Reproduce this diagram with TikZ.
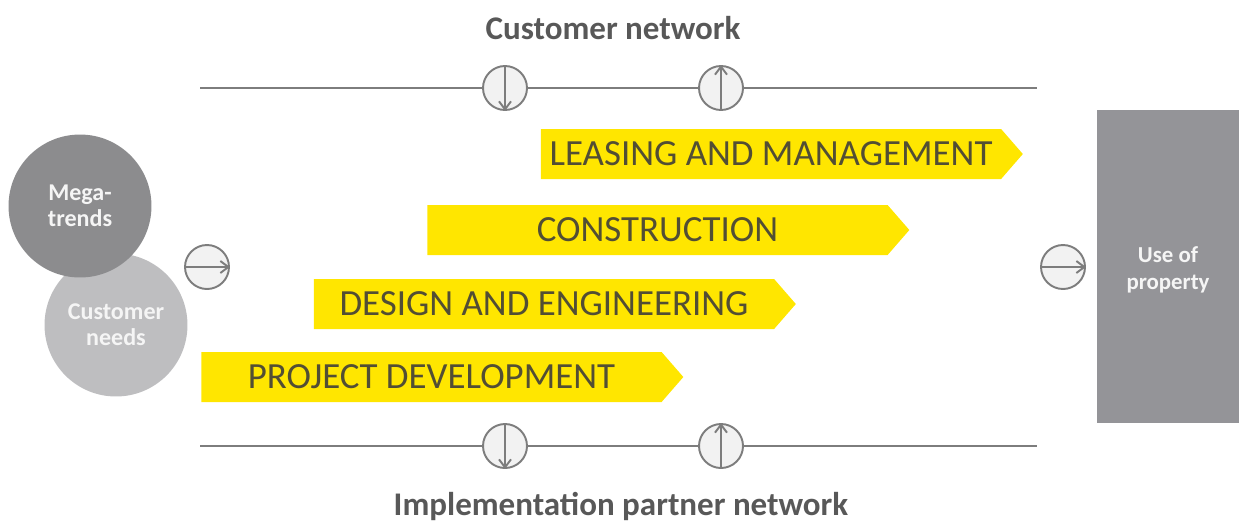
\documentclass[tikz,border=0pt]{standalone}
\usepackage{fontspec}
\setmainfont{Carlito}
\usepackage{tikz}
\usetikzlibrary{shapes.symbols,arrows.meta}

\definecolor{phaseyellow}{RGB}{255,230,0}
\definecolor{phasetext}{RGB}{82,78,52}
\definecolor{linegray}{RGB}{125,125,125}
\definecolor{titlegray}{RGB}{88,88,88}
\definecolor{megagray}{RGB}{140,140,142}
\definecolor{needsgray}{RGB}{190,190,192}
\definecolor{usegray}{RGB}{148,148,152}

\tikzset{
  phase/.style={signal, signal to=east, signal pointer angle=98, fill=phaseyellow,
    text=phasetext, minimum width=9.64cm, minimum height=1cm, inner sep=0pt,
    font=\fontsize{21}{24}\selectfont},
  flow/.style={circle, draw=linegray, fill=gray!10, line width=1.1pt,
    minimum size=0.88cm, inner sep=0pt},
  bubble/.style={circle, minimum size=2.86cm, inner sep=0pt, text=white!92!gray,
    align=center, font=\bfseries\fontsize{13.7}{15}\selectfont},
  title/.style={text=titlegray, font=\bfseries\fontsize{18.8}{21}\selectfont},
  flowarrow/.style={draw=linegray, line width=1.1pt, -{Straight Barb[length=1.6mm,width=2.4mm]}}
}

\begin{document}
\begin{tikzpicture}[x=0.02cm,y=-0.02cm]
\useasboundingbox (0,0) rectangle (1239,525);

\node[title](custnet) at (613,28) {Customer network};
\node[title](implnet) at (621,506) {Implementation partner network};

\coordinate (TL) at (200,88);
\coordinate (TR) at (1037,88);
\coordinate (BL) at (200,446);
\coordinate (BR) at (1037,446);

\node[flow](T1) at (505,88) {};
\node[flow](T2) at (721,88) {};
\node[flow](B1) at (505,446) {};
\node[flow](B2) at (721,446) {};

\draw[linegray, line width=1.3pt](TL) -- (T1) -- (T2) -- (TR);
\draw[linegray, line width=1.3pt](BL) -- (B1) -- (B2) -- (BR);
\draw[flowarrow](T1.north) -- (T1.south);
\draw[flowarrow](T2.south) -- (T2.north);
\draw[flowarrow](B1.north) -- (B1.south);
\draw[flowarrow](B2.south) -- (B2.north);

\node[phase](lease) at (771,154) {LEASING AND MANAGEMENT};
\node[phase](constr) at (657.5,230) {CONSTRUCTION};
\node[phase](design) at (544,304) {DESIGN AND ENGINEERING};
\node[phase](projdev) at (431.5,377) {PROJECT DEVELOPMENT};

\node[bubble, fill=needsgray](needs) at (116,325) {Customer\\needs};
\node[bubble, fill=megagray](mega) at (80,206) {Mega-\\trends};

\node[flow](In) at (207,267) {};
\draw[flowarrow](In.west) -- (In.east);
\node[flow](Out) at (1063,267) {};
\draw[flowarrow](Out.west) -- (Out.east);

\node[fill=usegray, minimum width=2.84cm, minimum height=6.26cm, inner sep=0pt]
  (use) at (1168,266.5) {};
\node[text=white!92!gray, align=center, font=\bfseries\fontsize{13}{15}\selectfont]
  (uselabel) at (1168,270) {Use of\\property};
\end{tikzpicture}
\end{document}
